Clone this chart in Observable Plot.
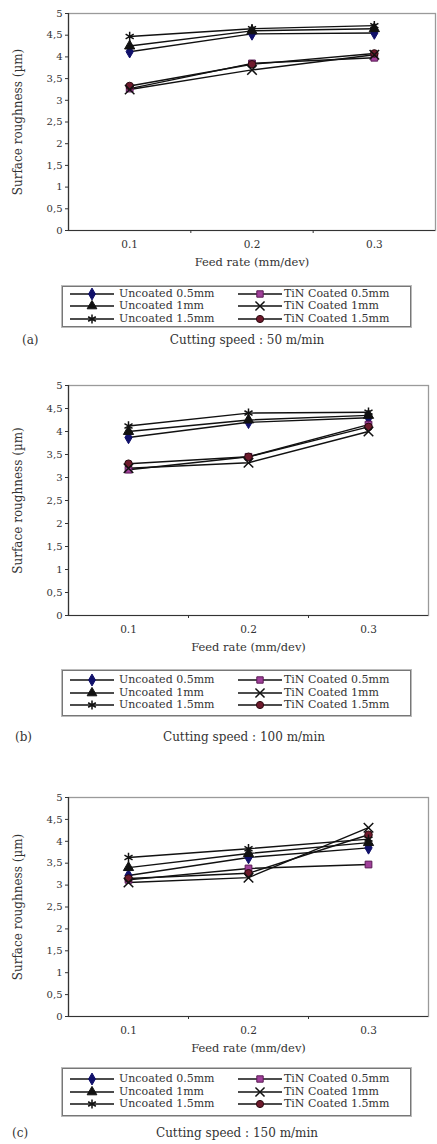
<!DOCTYPE html>
<html><head><meta charset="utf-8">
<script src="https://cdn.jsdelivr.net/npm/d3@7"></script>
<script src="https://cdn.jsdelivr.net/npm/@observablehq/plot@0.6"></script>
<style>
body{margin:0;background:#fff;}
#root{position:relative;width:437px;height:1144px;overflow:hidden;font-family:"DejaVu Serif",serif;color:#222;}
.panel{position:absolute;left:0;}
.legend{position:absolute;border:1px solid #777;box-shadow:0 0 0 1px #bbb;background:#fff;overflow:hidden;}
.legend .item{position:absolute;font-size:11px;line-height:12px;white-space:nowrap;color:#333;}
.legend svg{position:absolute;overflow:visible;}
.caption{position:absolute;font-size:12px;white-space:nowrap;color:#333;}
</style></head><body><div id="root"></div>
<script>
// ---- data ----
const feedRates = [0.1, 0.2, 0.3];
const feedLabels = ["0.1", "0.2", "0.3"];
const yTicks = [0, 0.5, 1, 1.5, 2, 2.5, 3, 3.5, 4, 4.5, 5];
const yTickLabels = ["0", "0,5", "1", "1,5", "2", "2,5", "3", "3,5", "4", "4,5", "5"];
const seriesNames = ["Uncoated 0.5mm", "Uncoated 1mm", "Uncoated 1.5mm", "TiN Coated 0.5mm", "TiN Coated 1mm", "TiN Coated 1.5mm"];
const seriesFills = ["#10106a", "#111111", "none", "#a0409a", "none", "#6e1a2c"];
const seriesStrokes = ["#10106a", "#111111", "#111111", "#5a1a55", "#111111", "#2a0a10"];
const seriesSymbols = ["diamond", "triangle", "asterisk", "square", "times", "circle"];
const d3Symbols = [d3.symbolDiamond, d3.symbolTriangle, d3.symbolAsterisk, d3.symbolSquare, d3.symbolTimes, d3.symbolCircle];

// roughness (µm) per series at feed rates 0.1, 0.2, 0.3
const roughness50 = [
  [4.12, 4.53, 4.55],
  [4.25, 4.60, 4.65],
  [4.47, 4.65, 4.72],
  [3.27, 3.85, 3.98],
  [3.25, 3.70, 4.05],
  [3.33, 3.83, 4.08]
];
const roughness100 = [
  [3.87, 4.20, 4.30],
  [4.00, 4.25, 4.35],
  [4.12, 4.40, 4.42],
  [3.17, 3.45, 4.15],
  [3.20, 3.32, 4.00],
  [3.30, 3.45, 4.10]
];
const roughness150 = [
  [3.22, 3.63, 3.85],
  [3.40, 3.72, 3.97],
  [3.63, 3.83, 4.05],
  [3.12, 3.38, 3.47],
  [3.06, 3.17, 4.31],
  [3.15, 3.27, 4.15]
];
const panelTags = ["(a)", "(b)", "(c)"];
const speedCaptions = ["Cutting speed : 50 m/min", "Cutting speed : 100 m/min", "Cutting speed : 150 m/min"];
const panelValues = [roughness50, roughness100, roughness150];

// ---- layout ----
const layout = [
  {top: 0,   height: 272, plotBottom: 230, marginRight: 2, legendTop: 286, legendH: 39, capTop: 333, tagLeft: 22, capCenter: 247},
  {top: 372, height: 285, plotBottom: 243, marginRight: 9, legendTop: 670, legendH: 44, capTop: 730, tagLeft: 15, capCenter: 244},
  {top: 784, height: 274, plotBottom: 232, marginRight: 9, legendTop: 1068, legendH: 46, capTop: 1126, tagLeft: 12, capCenter: 237}
];

const root = document.getElementById("root");

panelValues.forEach((vals, p) => {
  const L = layout[p];
  const data = seriesNames.flatMap((s, i) => feedRates.map((f, j) => ({series: s, idx: i, feed: f, value: vals[i][j]})));
  const chart = Plot.plot({
    width: 437,
    height: L.height,
    marginLeft: 68,
    marginRight: L.marginRight,
    marginTop: 13,
    marginBottom: L.height - L.plotBottom,
    style: {fontFamily: "DejaVu Serif, serif", fontSize: "10px", color: "#333", background: "white", overflow: "visible"},
    x: {domain: [0.05, 0.35]},
    y: {domain: [0, 5]},
    symbol: {domain: seriesNames, range: seriesSymbols},
    marks: [
      Plot.frame({stroke: "#9a9a9a", strokeWidth: 1.3}),
      Plot.ruleX([0.05], {stroke: "#333", strokeWidth: 1.2}),
      Plot.ruleY([0], {stroke: "#333", strokeWidth: 1.2}),
      Plot.axisY({ticks: yTicks, tickFormat: d => yTickLabels[yTicks.indexOf(d)], tickSize: 3, tickPadding: 3, label: null}),
      Plot.axisX({ticks: feedRates, tickFormat: d => feedLabels[feedRates.indexOf(d)], tickSize: 0, tickPadding: 10, label: null, fontSize: 10.5}),
      Plot.axisX({ticks: [0.15, 0.25], tickFormat: () => "", tickSize: 3, label: null}),
      Plot.text(["Surface roughness (µm)"], {text: d => d, frameAnchor: "left", textAnchor: "middle", lineAnchor: "middle", rotate: -90, dx: -50, fontSize: 12}),
      Plot.text(["Feed rate (mm/dev)"], {text: d => d, frameAnchor: "bottom", textAnchor: "middle", lineAnchor: "middle", dy: 32, fontSize: 11.5}),
      Plot.line(data, {x: "feed", y: "value", z: "series", stroke: "#111", strokeWidth: 1.4}),
      Plot.dot(data, {filter: d => seriesFills[d.idx] !== "none", x: "feed", y: "value", symbol: "series", r: 3.8,
        fill: d => seriesFills[d.idx], stroke: d => seriesStrokes[d.idx], strokeWidth: 1}),
      Plot.dot(data, {filter: d => seriesFills[d.idx] === "none", x: "feed", y: "value", symbol: "series", r: 4.4,
        fill: "none", stroke: d => seriesStrokes[d.idx], strokeWidth: 1.5})
    ]
  });
  const wrap = document.createElement("div");
  wrap.className = "panel";
  wrap.style.top = L.top + "px";
  wrap.appendChild(chart);
  root.appendChild(wrap);

  // legend
  const lg = document.createElement("div");
  lg.className = "legend";
  lg.style.left = "62px";
  lg.style.top = L.legendTop + "px";
  lg.style.width = "347px";
  lg.style.height = L.legendH + "px";
  const rowStep = 12.5;
  const rowOff = (L.legendH - 3 * rowStep) / 2;
  seriesNames.forEach((name, i) => {
    const col = i < 3 ? 0 : 1, row = i % 3;
    const sx = col === 0 ? 7 : 175, tx = col === 0 ? 56 : 221;
    const y = rowOff + row * rowStep;
    const ns = "http://www.w3.org/2000/svg";
    const sv = document.createElementNS(ns, "svg");
    sv.setAttribute("width", 46); sv.setAttribute("height", 12);
    sv.style.left = sx + "px"; sv.style.top = y + "px";
    const ln = document.createElementNS(ns, "line");
    ln.setAttribute("x1", 0); ln.setAttribute("x2", 44); ln.setAttribute("y1", 6); ln.setAttribute("y2", 6);
    ln.setAttribute("stroke", "#111"); ln.setAttribute("stroke-width", 1.4);
    sv.appendChild(ln);
    const pth = document.createElementNS(ns, "path");
    const stroked = seriesFills[i] === "none";
    pth.setAttribute("d", d3.symbol(d3Symbols[i], stroked ? Math.PI * 4.2 * 4.2 : Math.PI * 3.6 * 3.6)());
    pth.setAttribute("transform", "translate(22,6)");
    pth.setAttribute("fill", seriesFills[i]);
    pth.setAttribute("stroke", seriesStrokes[i]);
    pth.setAttribute("stroke-width", stroked ? 1.5 : 1);
    sv.appendChild(pth);
    lg.appendChild(sv);
    const t = document.createElement("div");
    t.className = "item";
    t.textContent = name;
    t.style.left = tx + "px"; t.style.top = y + "px";
    lg.appendChild(t);
  });
  root.appendChild(lg);

  // captions
  const tag = document.createElement("div");
  tag.className = "caption";
  tag.textContent = panelTags[p];
  tag.style.left = L.tagLeft + "px";
  tag.style.top = L.capTop + "px";
  root.appendChild(tag);
  const cap = document.createElement("div");
  cap.className = "caption";
  cap.textContent = speedCaptions[p];
  cap.style.left = L.capCenter + "px";
  cap.style.top = L.capTop + "px";
  cap.style.transform = "translateX(-50%)";
  root.appendChild(cap);
});
</script>
</body></html>
